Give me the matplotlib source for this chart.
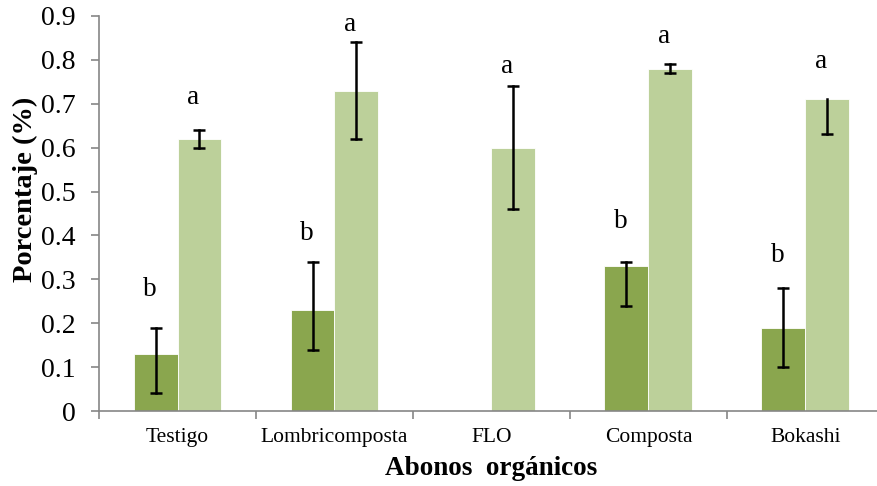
import numpy as np
import matplotlib
matplotlib.use('Agg')
import matplotlib.pyplot as plt

# data
categories = ['Testigo', 'Lombricomposta', 'FLO', 'Composta', 'Bokashi']
dark_vals = [0.13, 0.23, 0.0, 0.33, 0.19]
dark_err_low = [0.09, 0.09, 0.0, 0.09, 0.09]
dark_err_high = [0.06, 0.11, 0.0, 0.01, 0.09]
light_vals = [0.62, 0.73, 0.60, 0.78, 0.71]
light_err_low = [0.02, 0.11, 0.14, 0.01, 0.08]
light_err_high = [0.02, 0.11, 0.14, 0.01, 0.0]
dark_letters = ['b', 'b', '', 'b', 'b']
light_letters = ['a', 'a', 'a', 'a', 'a']
dark_letter_y = [0.276, 0.405, 0.0, 0.431, 0.355]
light_letter_y = [0.715, 0.88, 0.786, 0.854, 0.796]
yticks = [0, 0.1, 0.2, 0.3, 0.4, 0.5, 0.6, 0.7, 0.8, 0.9]

plt.rcParams['font.family'] = ['Liberation Serif', 'DejaVu Serif']

fig = plt.figure(figsize=(8.77, 4.86), dpi=100)
ax = fig.add_axes([0.1129, 0.1543, 0.895, 0.8128])

x = np.arange(len(categories))
w = 0.28
dark_col = '#8AA64E'
light_col = '#BCD09A'

ax.bar(x - w / 2, dark_vals, w, color=dark_col, edgecolor='white', linewidth=0.6, zorder=2)
ax.bar(x + w / 2, light_vals, w, color=light_col, edgecolor='white', linewidth=0.6, zorder=2)


def draw_err(xs, vals, lo, hi):
    # error bars with a cap only on the ends that actually have an error
    for xi, v, l, h in zip(xs, vals, lo, hi):
        if l == 0 and h == 0:
            continue
        ax.plot([xi, xi], [v - l, v + h], color='black', lw=1.8, zorder=3)
        if l > 0:
            ax.plot(xi, v - l, marker='_', ms=9, mew=1.8, color='black', zorder=3)
        if h > 0:
            ax.plot(xi, v + h, marker='_', ms=9, mew=1.8, color='black', zorder=3)


draw_err(x - w / 2, dark_vals, dark_err_low, dark_err_high)
draw_err(x + w / 2, light_vals, light_err_low, light_err_high)

for i, (lab, yy) in enumerate(zip(dark_letters, dark_letter_y)):
    if lab:
        ax.text(x[i] - w / 2 - 0.035, yy, lab, ha='center', va='center', fontsize=19.5)
for i, (lab, yy) in enumerate(zip(light_letters, light_letter_y)):
    ax.text(x[i] + w / 2 - 0.04, yy, lab, ha='center', va='center', fontsize=19.5)

ax.set_xlim(-0.5, len(categories) - 0.5)
ax.set_ylim(0, 0.9)
ax.set_yticks(yticks)
ax.set_yticklabels(['0'] + ['%.1f' % v for v in yticks[1:]])
ax.set_xticks(x)
ax.set_xticklabels(categories, fontsize=15.5)
ax.set_xticks(np.arange(-0.5, len(categories)), minor=True)

grey = '#868686'
for s in ['top', 'right']:
    ax.spines[s].set_visible(False)
for s in ['left', 'bottom']:
    ax.spines[s].set_color(grey)
    ax.spines[s].set_linewidth(1.2)

ax.tick_params(axis='y', direction='out', length=6, width=1.2, color=grey,
               labelsize=20, pad=11)
ax.tick_params(axis='x', which='major', length=0, pad=12)
ax.tick_params(axis='x', which='minor', direction='out', length=6, width=1.2, color=grey)

ax.set_ylabel('Porcentaje (%)', fontsize=20.5, fontweight='bold')
ax.yaxis.set_label_coords(-0.078, 0.562)
ax.set_xlabel('Abonos  orgánicos', fontsize=19.5, fontweight='bold', labelpad=7)

fig.savefig('out.png', dpi=100)
